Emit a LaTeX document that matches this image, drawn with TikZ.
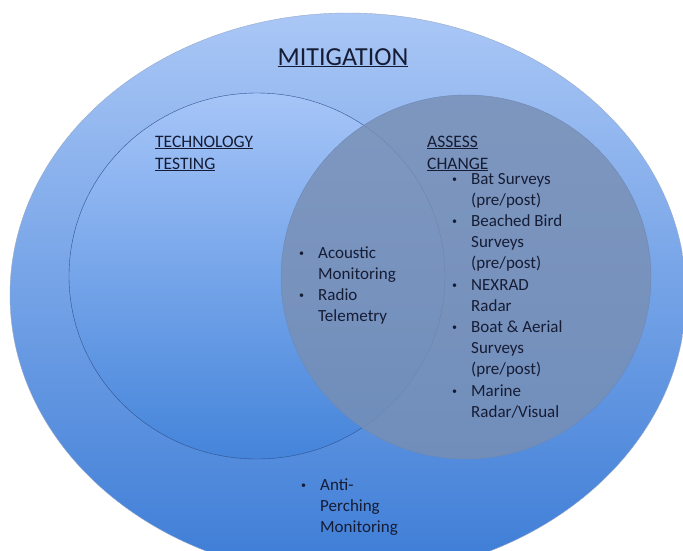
\documentclass[tikz,border=0pt]{standalone}
\usepackage{fontspec}
\setmainfont{Carlito}
\usetikzlibrary{shapes.geometric}
\definecolor{SkyTop}{RGB}{170,199,246}
\definecolor{SkyBottom}{RGB}{60,124,214}
\definecolor{PaleTop}{RGB}{166,197,248}
\definecolor{PaleBottom}{RGB}{68,132,218}
\definecolor{SlateFill}{RGB}{120,143,180}
\definecolor{RimBlue}{RGB}{48,84,146}
\definecolor{NavyText}{RGB}{22,28,52}

\newcommand{\dotmark}{\raisebox{1.5pt}{\fontsize{10}{10}\selectfont\textbullet}}
\newcommand{\bulletlist}[1]{\begin{tabular}[t]{@{}p{19pt}@{}l@{}}#1\end{tabular}}

\begin{document}
\begin{tikzpicture}[x=1pt, y=-1pt,
    outerset/.style={ellipse, draw=RimBlue!50, thin, top color=SkyTop, bottom color=SkyBottom, minimum width=676pt, minimum height=564pt, inner sep=0pt},
    techset/.style={ellipse, draw=RimBlue, thin, top color=PaleTop, bottom color=PaleBottom, minimum width=376pt, minimum height=366pt, inner sep=0pt},
    assessset/.style={ellipse, draw=RimBlue!70, thin, fill=SlateFill, fill opacity=0.82, minimum width=370pt, minimum height=364pt, inner sep=0pt},
    heading/.style={anchor=base west, inner sep=0pt, text=NavyText, font=\fontsize{17.5}{22}\selectfont},
    itemlist/.style={anchor=base west, inner sep=0pt, text=NavyText, font=\fontsize{17}{21.2}\selectfont}
  ]
  \useasboundingbox (0,0) rectangle (683,550);
  \clip (0,0) rectangle (683,550);
  \fill[white] (0,0) rectangle (683,550);

  % the three sets
  \node (mitig) [outerset] at (348,295) {};
  \node (techset) [techset] at (257,276) {};
  \node (assessset) [assessset] at (466,277) {};

  % labels
  \node (mitigation) [anchor=base, inner sep=0pt, text=NavyText, font=\fontsize{26}{30}\selectfont] at (343,65) {\underline{MITIGATION}};
  \node (techlabel) [heading] at (155,147) {\begin{tabular}[t]{@{}l@{}}\underline{TECHNOLOGY}\\\underline{TESTING}\end{tabular}};
  \node (assesslabel) [heading] at (427,147) {\begin{tabular}[t]{@{}l@{}}\underline{ASSESS}\\\underline{CHANGE}\end{tabular}};

  % bullet lists
  \node (sharedlist) [itemlist] at (299,258) {\bulletlist{%
      \dotmark & Acoustic\\ & Monitoring\\
      \dotmark & Radio\\ & Telemetry}};
  \node (assesslist) [itemlist] at (452,184) {\bulletlist{%
      \dotmark & Bat Surveys\\ & (pre/post)\\
      \dotmark & Beached Bird\\ & Surveys\\ & (pre/post)\\
      \dotmark & NEXRAD\\ & Radar\\
      \dotmark & Boat \& Aerial\\ & Surveys\\ & (pre/post)\\
      \dotmark & Marine\\ & Radar/Visual}};
  \node (perchlist) [itemlist] at (301,490) {\bulletlist{%
      \dotmark & Anti-\\ & Perching\\ & Monitoring}};
\end{tikzpicture}
\end{document}
